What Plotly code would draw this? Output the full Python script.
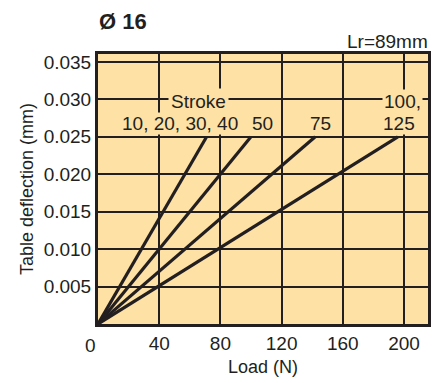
import plotly.graph_objects as go

# Data
strokes = ["10, 20, 30, 40", "50", "75", "100, 125"]
load_end = [71, 100, 142, 196]          # N at which each line reaches the end deflection
deflection_end = [0.025, 0.025, 0.025, 0.025]  # mm

x_ticks = [40, 80, 120, 160, 200]
x_tick_labels = ["40", "80", "120", "160", "200"]
y_ticks = [0.005, 0.010, 0.015, 0.020, 0.025, 0.030, 0.035]
y_tick_labels = ["0.005", "0.010", "0.015", "0.020", "0.025", "0.030", "0.035"]

INK = "#231f20"
BG = "#fee1a5"
FONT = "Liberation Sans, Arial, sans-serif"

fig = go.Figure()
for name, xe, ye in zip(strokes, load_end, deflection_end):
    fig.add_trace(go.Scatter(x=[0, xe], y=[0, ye], mode="lines", name=name,
                             line=dict(color=INK, width=3.2), showlegend=False,
                             hoverinfo="skip"))

ann_font = dict(family=FONT, size=19, color=INK)
annotations = [
    dict(text="Stroke", x=65.8, y=0.0297, xref="x", yref="y", showarrow=False,
         font=ann_font, bgcolor=BG, borderpad=2),
    dict(text="10, 20, 30, 40", x=53.4, y=0.0268, xref="x", yref="y", showarrow=False,
         font=ann_font, bgcolor=BG, borderpad=0),
    dict(text="50", x=107.3, y=0.0268, xref="x", yref="y", showarrow=False,
         font=ann_font, bgcolor=BG, borderpad=0),
    dict(text="75", x=145.5, y=0.0268, xref="x", yref="y", showarrow=False,
         font=ann_font, bgcolor=BG, borderpad=0),
    dict(text="100,", x=185.5, y=0.0297, xref="x", yref="y", showarrow=False,
         xanchor="left", font=ann_font, bgcolor=BG, borderpad=1),
    dict(text="125", x=185.5, y=0.0268, xref="x", yref="y", showarrow=False,
         xanchor="left", font=ann_font, bgcolor=BG, borderpad=0),
    dict(text="0", x=0, y=0, xref="x", yref="y", showarrow=False,
         font=ann_font, xshift=-8, yshift=-21),
    dict(text="<b>Ø 16</b>", x=-0.004, y=1.12, xref="paper", yref="paper",
         showarrow=False, xanchor="left", yanchor="middle",
         font=dict(family=FONT, size=22, color=INK)),
    dict(text="Lr=89mm", x=1.006, y=1.046, xref="paper", yref="paper",
         showarrow=False, xanchor="right", yanchor="middle",
         font=dict(family=FONT, size=19, color=INK)),
]

fig.update_layout(
    width=439, height=383,
    margin=dict(l=98, r=11, t=54, b=59, autoexpand=False),
    paper_bgcolor="white",
    plot_bgcolor=BG,
    font=dict(family=FONT, size=19, color=INK),
    annotations=annotations,
    xaxis=dict(range=[0, 215.7], tickmode="array", tickvals=x_ticks, ticktext=x_tick_labels,
               showgrid=True, gridcolor=INK, gridwidth=1.5, zeroline=False,
               showline=True, linecolor=INK, linewidth=3, mirror=True,
               ticks="", tickfont=dict(size=19), automargin=False,
               title=dict(text="Load (N)", font=dict(size=18), standoff=8)),
    yaxis=dict(range=[0, 0.03606], tickmode="array", tickvals=y_ticks, ticktext=y_tick_labels,
               showgrid=True, gridcolor=INK, gridwidth=1.5, zeroline=False,
               showline=True, linecolor=INK, linewidth=3, mirror=True,
               ticks="", tickfont=dict(size=19), automargin=False,
               title=dict(text="Table deflection (mm)", font=dict(size=18), standoff=6)),
)

fig.write_html("out.html", config={"displayModeBar": False},
               post_script="document.body.style.margin='0';")
